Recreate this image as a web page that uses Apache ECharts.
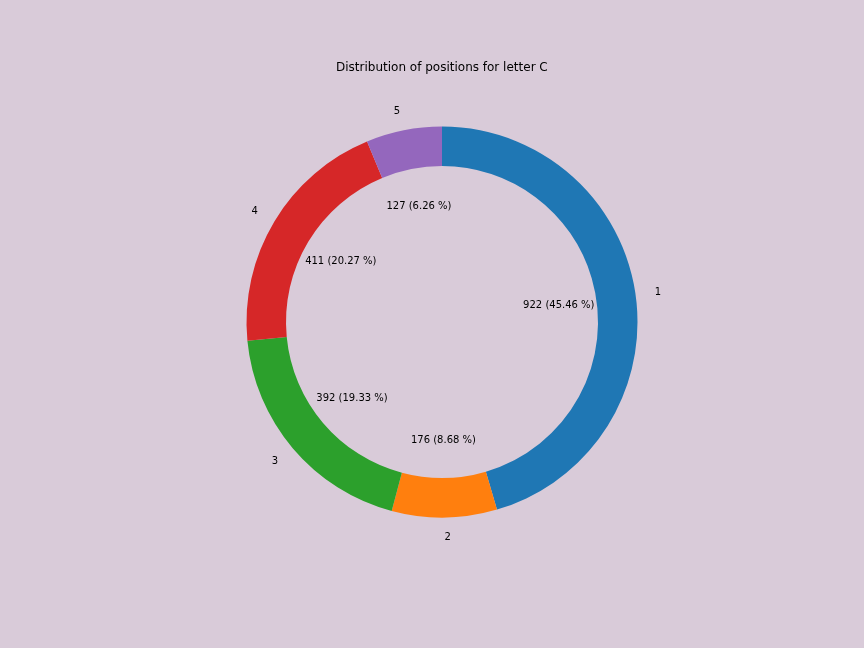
<!DOCTYPE html>
<html><head><meta charset="utf-8">
<script src="https://cdn.jsdelivr.net/npm/echarts@6/dist/echarts.min.js"></script>
<style>html,body{margin:0;padding:0;background:#d9cbd9;}#c{width:864px;height:648px;}</style>
</head><body><div id="c"></div>
<script>
const categories = ['1', '2', '3', '4', '5'];
const values = [922, 176, 392, 411, 127];
const colors = ['#1f77b4', '#ff7f0e', '#2ca02c', '#d62728', '#9467bd'];
const titleText = 'Distribution of positions for letter C';

const total = values.reduce((a, b) => a + b, 0);
const center = [442, 322];
const font = 'DejaVu Sans';
const data = categories.map((c, i) => ({ name: c, value: values[i], itemStyle: { color: colors[i] } }));

// outer label alignment like matplotlib (text starts at anchor on right half, ends at anchor on left half)
let cum = 0;
const outerData = categories.map((c, i) => {
  const mid = (cum + values[i] / 2) / total;
  cum += values[i];
  const right = Math.sin(2 * Math.PI * mid) > 0;
  return { name: c, value: values[i], label: { offset: [right ? 3 : -3, 0] } };
});

const chart = echarts.init(document.getElementById('c'), null, { renderer: 'canvas' });
chart.setOption({
  backgroundColor: '#d9cbd9',
  animation: false,
  title: { text: titleText, left: 336, top: 62, padding: 0,
    textStyle: { fontFamily: font, fontSize: 12, fontWeight: 'normal', color: '#000' } },
  series: [
    { type: 'pie', center: center, radius: [156, 195.5], startAngle: 90, clockwise: true,
      data: data, label: { show: false }, labelLine: { show: false },
      itemStyle: { borderWidth: 0 }, emphasis: { disabled: true } },
    { type: 'pie', center: [442, 322.5], radius: [202, 222], startAngle: 90, clockwise: true,
      data: outerData, silent: true,
      itemStyle: { color: 'rgba(0,0,0,0)' }, labelLine: { show: false },
      label: { show: true, position: 'inside', formatter: '{b}', fontFamily: font, fontSize: 10, color: '#000' } },
    { type: 'pie', center: [442, 322.5], radius: [105, 125], startAngle: 90, clockwise: true,
      data: data.map(d => ({ name: d.name, value: d.value })), silent: true,
      itemStyle: { color: 'rgba(0,0,0,0)' }, labelLine: { show: false },
      label: { show: true, position: 'inside', fontFamily: font, fontSize: 10, color: '#000',
        formatter: p => p.value + ' (' + (p.value / total * 100).toFixed(2) + ' %)' } }
  ]
});
</script></body></html>
